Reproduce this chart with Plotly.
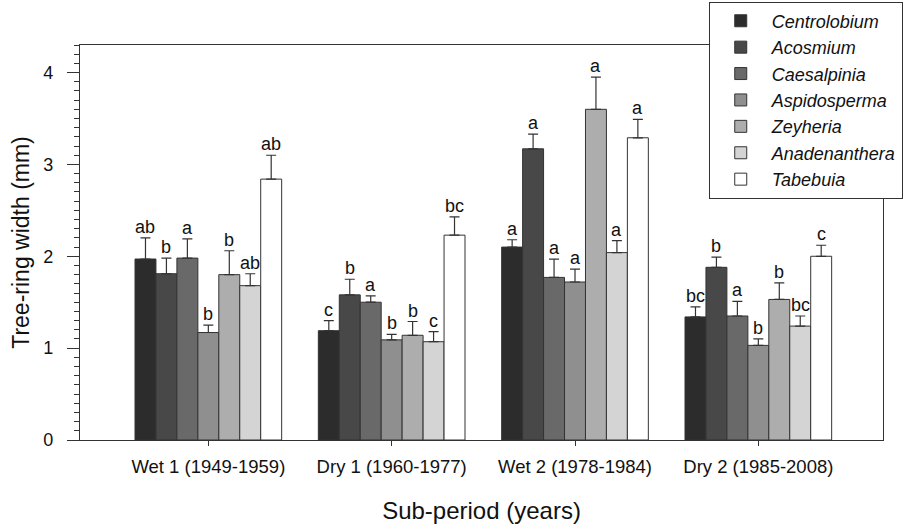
import plotly.graph_objects as go

periods = ["Wet 1 (1949-1959)", "Dry 1 (1960-1977)", "Wet 2 (1978-1984)", "Dry 2 (1985-2008)"]
species = ["Centrolobium", "Acosmium", "Caesalpinia", "Aspidosperma", "Zeyheria", "Anadenanthera", "Tabebuia"]

# mean tree-ring width per species for each sub-period
centrolobium = [1.97, 1.19, 2.10, 1.34]
acosmium = [1.81, 1.58, 3.17, 1.88]
caesalpinia = [1.98, 1.50, 1.77, 1.35]
aspidosperma = [1.17, 1.09, 1.72, 1.03]
zeyheria = [1.80, 1.14, 3.60, 1.53]
anadenanthera = [1.68, 1.07, 2.04, 1.24]
tabebuia = [2.84, 2.23, 3.29, 2.00]

# standard error (upper bar only)
err_centrolobium = [0.23, 0.11, 0.08, 0.11]
err_acosmium = [0.17, 0.17, 0.16, 0.11]
err_caesalpinia = [0.21, 0.07, 0.20, 0.16]
err_aspidosperma = [0.08, 0.06, 0.14, 0.07]
err_zeyheria = [0.26, 0.15, 0.35, 0.18]
err_anadenanthera = [0.13, 0.11, 0.13, 0.11]
err_tabebuia = [0.26, 0.20, 0.20, 0.12]

# significance letters
let_centrolobium = ["ab", "c", "a", "bc"]
let_acosmium = ["b", "b", "a", "b"]
let_caesalpinia = ["a", "a", "a", "a"]
let_aspidosperma = ["b", "b", "a", "b"]
let_zeyheria = ["b", "b", "a", "b"]
let_anadenanthera = ["ab", "c", "a", "bc"]
let_tabebuia = ["ab", "bc", "a", "c"]

values = [centrolobium, acosmium, caesalpinia, aspidosperma, zeyheria, anadenanthera, tabebuia]
errors = [err_centrolobium, err_acosmium, err_caesalpinia, err_aspidosperma, err_zeyheria, err_anadenanthera, err_tabebuia]
letters = [let_centrolobium, let_acosmium, let_caesalpinia, let_aspidosperma, let_zeyheria, let_anadenanthera, let_tabebuia]
colors = ["#2c2c2c", "#484848", "#696969", "#8f8f8f", "#adadad", "#d4d4d4", "#ffffff"]

FONT = "Liberation Sans, Arial, sans-serif"
TXT = "#111111"
xpos = list(range(len(periods)))
n = len(species)
group_width = 0.8
bw = group_width / n

fig = go.Figure()
annotations = []
for i, sp in enumerate(species):
    fig.add_trace(go.Bar(
        x=xpos, y=values[i], name=sp,
        marker=dict(color=colors[i], line=dict(color="#333333", width=1)),
        error_y=dict(type="data", array=errors[i], arrayminus=[0] * len(periods),
                     symmetric=False, color="#333333", thickness=1.2, width=5),
    ))
    for g in range(len(periods)):
        annotations.append(dict(
            x=g + (i - (n - 1) / 2) * bw, y=values[i][g] + errors[i][g],
            xref="x", yref="y", text=letters[i][g], showarrow=False,
            yanchor="bottom", yshift=-1, font=dict(family=FONT, size=18, color=TXT),
        ))

fig.update_layout(
    width=903, height=524,
    margin=dict(l=80, r=20, t=45, b=84, autoexpand=False),
    paper_bgcolor="white", plot_bgcolor="white",
    barmode="group", bargap=0.2, bargroupgap=0,
    font=dict(family=FONT, color=TXT),
    annotations=annotations,
    legend=dict(
        x=0.783, y=1.11, xanchor="left", yanchor="top",
        bgcolor="white", bordercolor="#333333", borderwidth=1,
        font=dict(family=FONT, size=18, style="italic", color=TXT),
        itemwidth=52, tracegroupgap=0,
    ),
    showlegend=True,
)
fig.update_xaxes(
    tickmode="array", tickvals=xpos, ticktext=periods,
    range=[-0.7, 3.68], showline=True, linecolor="#333333", linewidth=1.2, mirror=True,
    ticks="outside", ticklen=5, tickcolor="#333333", showgrid=False, zeroline=False,
    ticklabelstandoff=5,
    tickfont=dict(family=FONT, size=18.5, color=TXT),
    title=dict(text="Sub-period (years)", font=dict(family=FONT, size=24, color=TXT), standoff=28),
)
fig.update_yaxes(
    range=[0, 4.3], tickmode="array", tickvals=[0, 1, 2, 3, 4],
    showline=True, linecolor="#333333", linewidth=1.2, mirror=True,
    ticks="outside", ticklen=12, tickcolor="#333333", showgrid=False, zeroline=False,
    minor=dict(dtick=0.1, tick0=0, ticks="outside", ticklen=5, tickcolor="#333333", showgrid=False),
    ticklabelstandoff=10,
    tickfont=dict(family=FONT, size=18, color=TXT),
    title=dict(text="Tree-ring width (mm)", font=dict(family=FONT, size=23, color=TXT), standoff=7),
)

fig.write_html("out.html")
